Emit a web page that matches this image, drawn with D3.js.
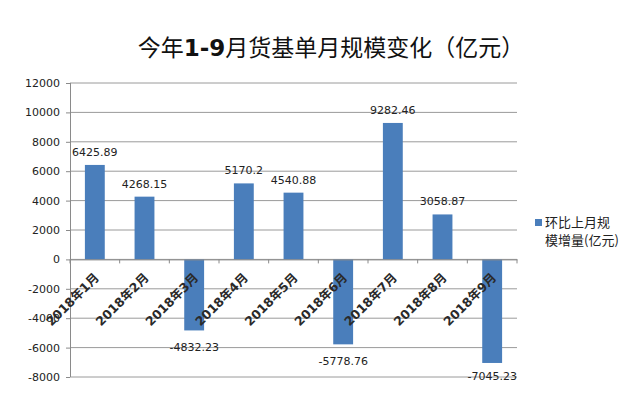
<!DOCTYPE html>
<html lang="zh">
  <head>
    <meta charset="utf-8">
    <title>今年1-9月货基单月规模变化</title>
    <script type="text/javascript" src="https://d3js.org/d3.v7.min.js"></script>
    <style type="text/css">
    body { margin: 0; background: #fff; }
    .charttitle {
      font-family: "Noto Sans CJK SC", sans-serif;
      font-size: 23px;
      fill: #111;
    }
    .axisl text, .vlabel {
      font-family: "DejaVu Sans", sans-serif;
      font-size: 11px;
      fill: #222;
    }
    .xlabel {
      font-family: "DejaVu Sans", "Noto Sans CJK SC", sans-serif;
      font-size: 12.5px;
      font-weight: bold;
      fill: #2a2a2a;
    }
    .legend text {
      font-family: "Noto Sans CJK SC", sans-serif;
      font-size: 13px;
      fill: #222;
    }
    </style>
  </head>
  <body>
    <svg width="640" height="398" id="svg1"></svg>
    <script type="text/javascript">

// data
    const months = ["2018年1月", "2018年2月", "2018年3月", "2018年4月", "2018年5月",
                    "2018年6月", "2018年7月", "2018年8月", "2018年9月"];
    const values = [6425.89, 4268.15, -4832.23, 5170.2, 4540.88, -5778.76, 9282.46, 3058.87, -7045.23];
    const valueLabels = ["6425.89", "4268.15", "-4832.23", "5170.2", "4540.88", "-5778.76", "9282.46", "3058.87", "-7045.23"];
    const yTicks = [-8000, -6000, -4000, -2000, 0, 2000, 4000, 6000, 8000, 10000, 12000];
    const legendLines = ["环比上月规", "模增量(亿元)"];

    const plotL = 70, plotR = 517, plotT = 83, plotB = 377;
    const barColor = "#4a7ebb";

    const svg = d3.select("#svg1");

    const xScale = d3.scaleBand()
        .domain(months)
        .range([plotL, plotR])
        .paddingInner(0.6)
        .paddingOuter(0.3);

    const yScale = d3.scaleLinear()
        .domain([-8000, 12000])
        .range([plotB, plotT]);

    // title
    const title = svg.append("text")
        .attr("class", "charttitle")
        .attr("x", 331)
        .attr("y", 56)
        .attr("text-anchor", "middle");
    title.append("tspan").text("今年");
    title.append("tspan").attr("font-weight", "bold").attr("font-family", "DejaVu Sans").text("1-9");
    title.append("tspan").text("月货基单月规模变化（亿元）");

    // gridlines
    svg.selectAll("line.grid")
        .data(yTicks)
        .enter()
        .append("line")
        .attr("class", "grid")
        .attr("x1", plotL)
        .attr("x2", plotR)
        .attr("y1", d => yScale(d))
        .attr("y2", d => yScale(d))
        .attr("stroke", "#9a9a9a")
        .attr("stroke-width", 1);

    // y axis
    const leftAxis = d3.axisLeft(yScale)
        .tickValues(yTicks)
        .tickFormat(d => String(d))
        .tickSize(4)
        .tickPadding(6);
    const gy = svg.append("g")
        .attr("class", "axisl")
        .attr("transform", "translate(" + plotL + ",0)")
        .call(leftAxis);
    gy.selectAll("path, line").attr("stroke", "#8a8a8a");
    gy.select(".domain").attr("d", "M0.5," + plotT + "V" + plotB);

    // bars
    svg.selectAll("rect.bar")
        .data(values)
        .enter()
        .append("rect")
        .attr("class", "bar")
        .attr("x", (d, i) => xScale(months[i]))
        .attr("y", d => yScale(Math.max(0, d)))
        .attr("width", xScale.bandwidth())
        .attr("height", d => Math.abs(yScale(d) - yScale(0)))
        .attr("fill", barColor);

    // zero axis with category ticks
    const bottomAxis = d3.axisBottom(xScale)
        .tickSize(0)
        .tickFormat("");
    const gx = svg.append("g")
        .attr("transform", "translate(0," + yScale(0) + ")")
        .call(bottomAxis);
    gx.select(".domain").attr("stroke", "#8a8a8a");
    const step = xScale.step();
    gx.selectAll("line.sep")
        .data(d3.range(months.length + 1))
        .enter()
        .append("line")
        .attr("class", "sep")
        .attr("x1", i => plotL + i * step)
        .attr("x2", i => plotL + i * step)
        .attr("y1", 0)
        .attr("y2", 4)
        .attr("stroke", "#8a8a8a");

    // category labels
    svg.selectAll("text.xlabel")
        .data(months)
        .enter()
        .append("text")
        .attr("class", "xlabel")
        .attr("text-anchor", "end")
        .attr("transform", d => "translate(" + (xScale(d) + xScale.bandwidth() / 2 + 5) + "," + (yScale(0) + 19) + ") rotate(-45)")
        .text(d => d);

    // value labels
    svg.selectAll("text.vlabel")
        .data(values)
        .enter()
        .append("text")
        .attr("class", "vlabel")
        .attr("text-anchor", "middle")
        .attr("x", (d, i) => xScale(months[i]) + xScale.bandwidth() / 2)
        .attr("y", d => d >= 0 ? yScale(d) - 9 : Math.min(yScale(d) + 21, 380))
        .text((d, i) => valueLabels[i]);

    // legend
    const legend = svg.append("g").attr("class", "legend");
    legend.append("rect")
        .attr("x", 535)
        .attr("y", 219)
        .attr("width", 7)
        .attr("height", 7)
        .attr("fill", barColor);
    legend.selectAll("text")
        .data(legendLines)
        .enter()
        .append("text")
        .attr("x", 545)
        .attr("y", (d, i) => 227 + i * 18)
        .text(d => d);

    </script>
  </body>
</html>
